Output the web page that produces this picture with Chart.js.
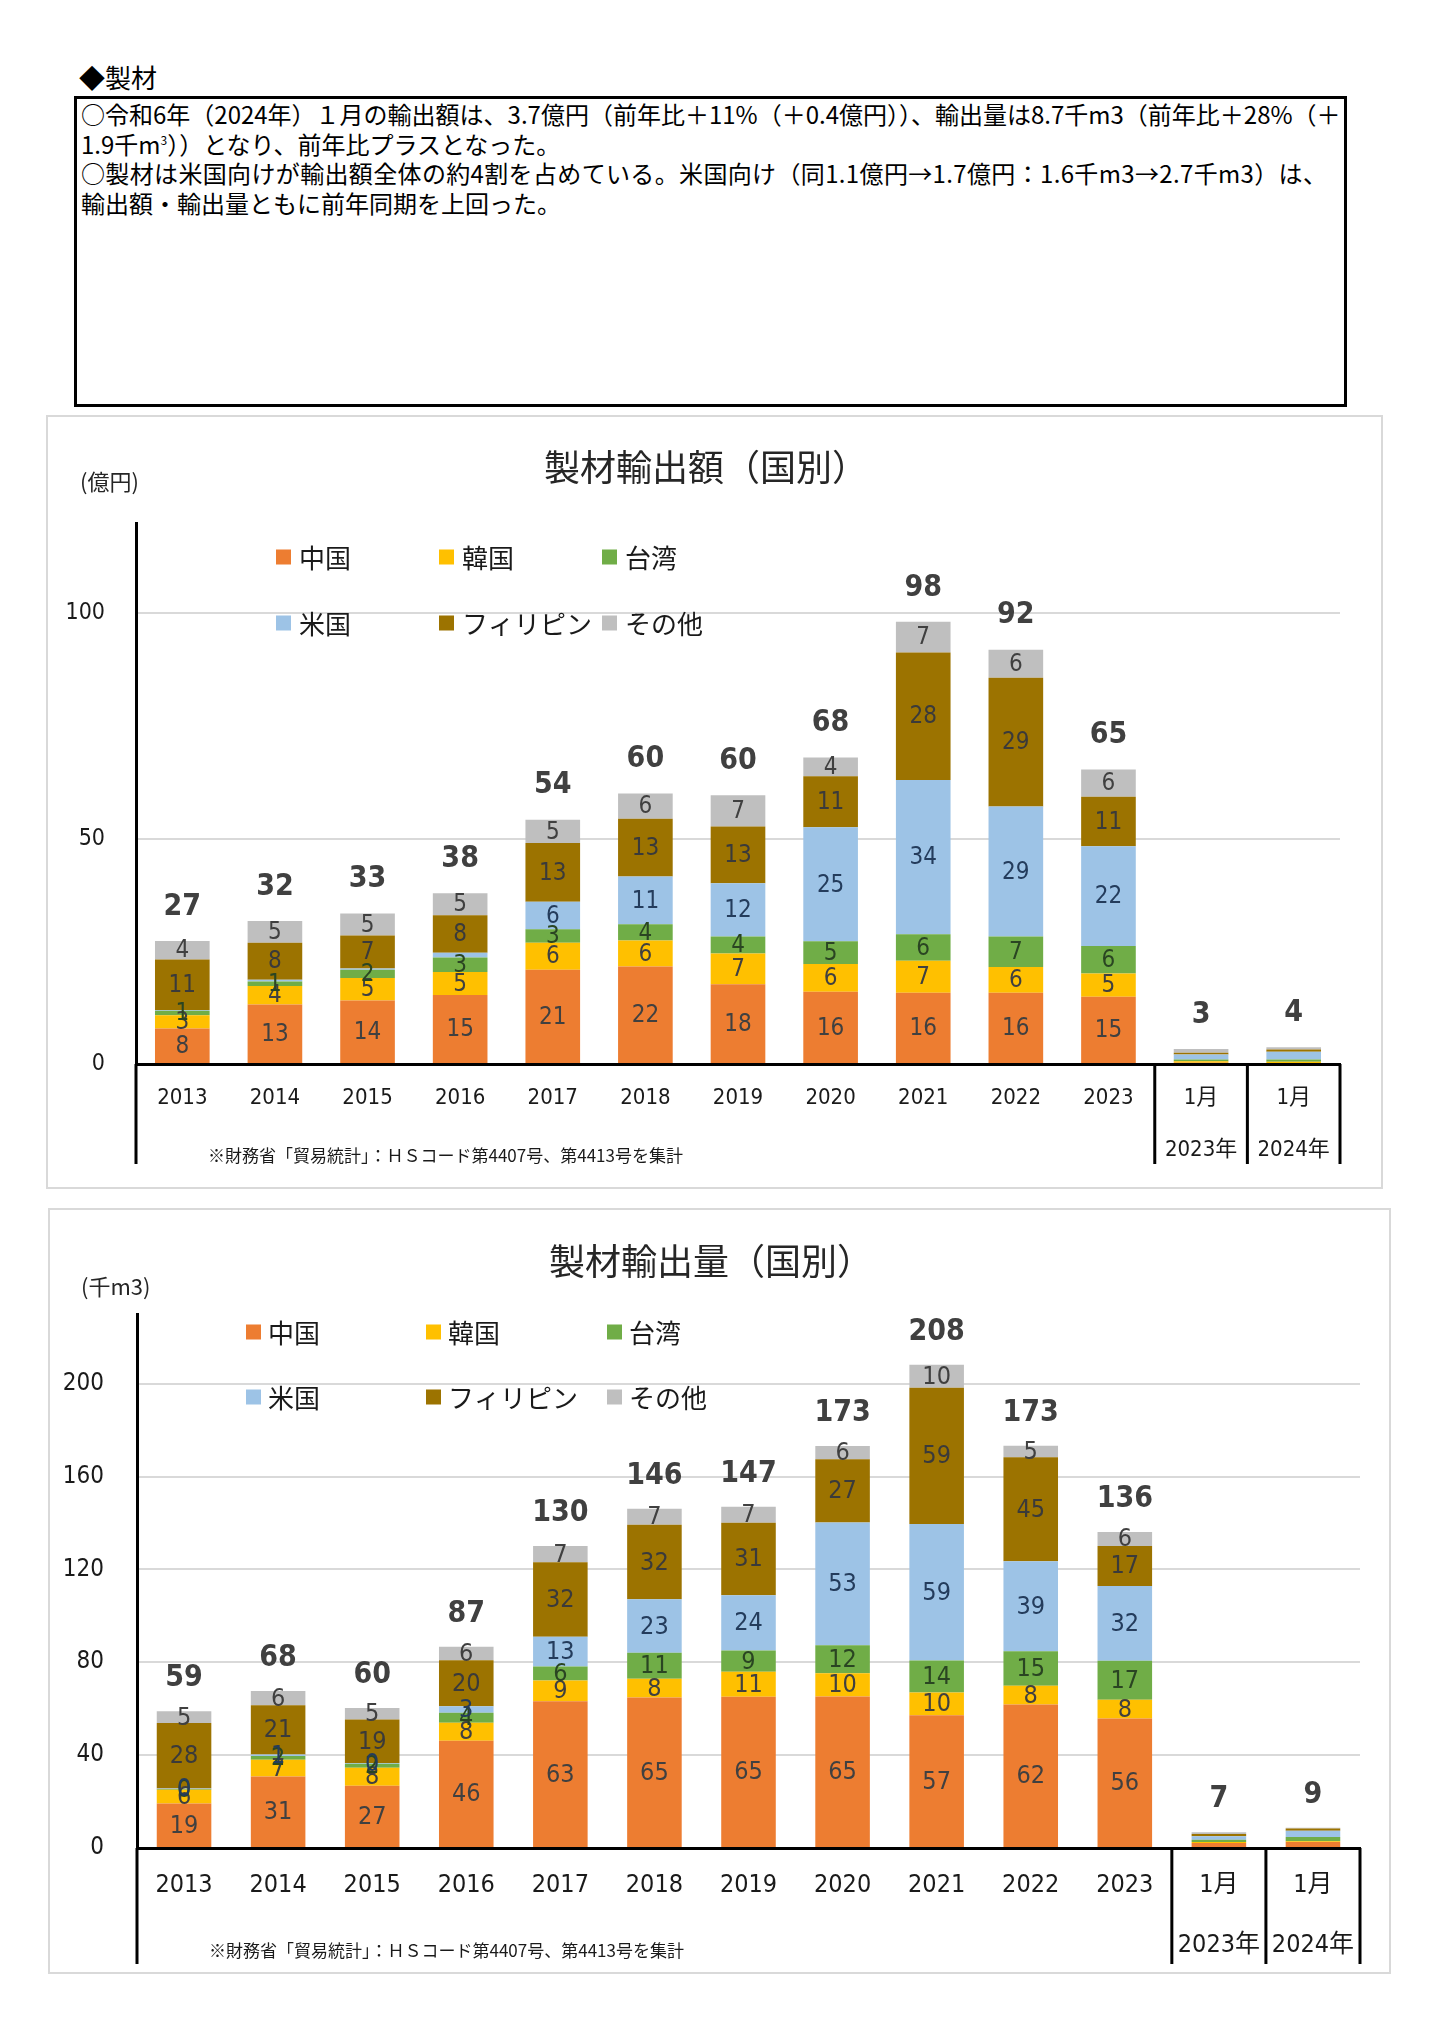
<!DOCTYPE html>
<html lang="ja">
<head>
<meta charset="utf-8">
<script src="https://cdn.jsdelivr.net/npm/chart.js@4.4.1/dist/chart.umd.min.js"></script>
<style>
html,body{margin:0;padding:0;background:#fff;}
body{width:1430px;height:2044px;position:relative;overflow:hidden;font-family:'Noto Sans CJK JP','Noto Sans CJK SC',sans-serif;color:#000;}
.abs{position:absolute;}
#heading{left:79px;top:61px;font-size:26px;line-height:32px;white-space:nowrap;}
#box{left:74px;top:96px;width:1267px;height:305px;border:3px solid #000;}
#box .ln{white-space:nowrap;font-size:24px;line-height:29.7px;padding-left:4px;}
#box .ln.wide{letter-spacing:0.35px;}
#box sup{font-size:12px;vertical-align:9px;line-height:0;}
.panel{position:absolute;border:2px solid #D9D9D9;box-sizing:border-box;pointer-events:none;}
canvas{position:absolute;}
</style>
</head>
<body>
<div id="heading" class="abs">◆製材</div>
<div id="box" class="abs">
<div class="ln">○令和6年（2024年）１月の輸出額は、3.7億円（前年比＋11%（＋0.4億円））、輸出量は8.7千m3（前年比＋28%（＋</div>
<div class="ln">1.9千m<sup>3</sup>））となり、前年比プラスとなった。</div>
<div class="ln wide">○製材は米国向けが輸出額全体の約4割を占めている。米国向け（同1.1億円→1.7億円：1.6千m3→2.7千m3）は、</div>
<div class="ln">輸出額・輸出量ともに前年同期を上回った。</div>
</div>

<canvas id="c1" width="1337" height="774" style="left:46px;top:415px;"></canvas>
<div class="panel" style="left:46px;top:415px;width:1337px;height:774px;"></div>
<canvas id="c2" width="1343" height="766" style="left:48px;top:1208px;"></canvas>
<div class="panel" style="left:48px;top:1208px;width:1343px;height:766px;"></div>

<script>
// ---------------- DATA ----------------
const categories = ['2013','2014','2015','2016','2017','2018','2019','2020','2021','2022','2023',['1月','2023年'],['1月','2024年']];
const seriesNames = ['中国','韓国','台湾','米国','フィリピン','その他'];

// 製材輸出額（億円）
const amtChina       = [7.9,13.2,14.1,15.3,20.9,21.6,17.7,16.0,15.8,15.8,14.9,0.3,0.2];
const amtKorea       = [2.9, 4.1, 5.0, 5.1, 6.0, 5.8, 6.8, 6.2, 7.1, 5.7, 5.2,0.3,0.3];
const amtTaiwan      = [1.0, 1.0, 1.8, 3.2, 3.0, 3.6, 3.8, 5.0, 5.9, 6.8, 6.1,0.4,0.5];
const amtUSA         = [0.2, 0.4, 0.3, 1.1, 6.1,10.6,11.8,25.3,34.2,28.8,22.1,1.1,1.7];
const amtPhilippines = [11.2,8.2, 7.3, 8.3,13.0,12.8,12.6,11.3,28.3,28.6,11.0,0.4,0.5];
const amtOther       = [4.1, 4.8, 4.9, 4.9, 5.2, 5.6, 6.9, 4.2, 6.8, 6.2, 6.0,0.8,0.5];
const amtTicks = [0, 50, 100];
const amtMax = 120;

// 製材輸出量（千m3）
const volChina       = [19.2,30.8,26.8,46.2,63.2,64.8,65.1,65.2,57.2,61.8,55.8,2.2,2.6];
const volKorea       = [5.9, 7.2, 7.8, 7.8, 8.9, 8.1,10.8,10.1, 9.8, 8.1, 8.1,0.4,0.3];
const volTaiwan      = [0.3, 1.6, 1.7, 4.2, 6.1,11.2, 9.2,12.0,13.8,14.8,16.8,0.9,1.8];
const volUSA         = [0.2, 0.7, 0.3, 2.9,12.8,23.0,23.8,52.9,58.8,38.8,32.2,1.6,2.7];
const volPhilippines = [28.2,21.2,18.8,19.8,32.1,32.1,31.2,27.2,58.6,44.8,17.2,0.9,1.0];
const volOther       = [5.1, 6.1, 4.9, 5.8, 7.0, 6.9, 6.9, 5.7, 9.9, 4.9, 6.0,0.8,0.3];
const volTicks = [0, 40, 80, 120, 160, 200];
const volMax = 230;

// ---------------- STYLE ----------------
const seriesColors = ['#ED7D31','#FFC000','#70AD47','#9DC3E6','#9C7300','#BFBFBF'];
const labelColors  = ['#404040','#404040','#2A4522','#243C5C','#3A3A3A','#404040'];
const JP  = "'Noto Sans CJK JP','Noto Sans CJK SC',sans-serif";
const NUM = "'DejaVu Sans Condensed','DejaVu Sans','Noto Sans CJK JP',sans-serif";

Chart.defaults.animation = false;
Chart.defaults.font.family = NUM;

// ---------------- PLUGINS ----------------
const stackLabels = {
  id: 'stackLabels',
  afterDatasetsDraw(chart, args, o) {
    const ctx = chart.ctx, ys = chart.scales.y, dsets = chart.data.datasets;
    ctx.save();
    ctx.textAlign = 'center'; ctx.textBaseline = 'middle';
    ctx.font = o.size + 'px ' + NUM;
    dsets.forEach((ds, di) => {
      chart.getDatasetMeta(di).data.forEach((bar, i) => {
        if (i >= o.labeled) return;
        const v = ds.data[i];
        if (v < o.min) return;
        if (o.hidden.some(h => h[0] === ds.label && h[1] === i)) return;
        const p = bar.getProps(['x','y','base'], true);
        ctx.fillStyle = labelColors[di];
        ctx.fillText(String(Math.round(v)), p.x, (p.y + p.base) / 2 + 1);
      });
    });
    ctx.font = 'bold ' + o.totalSize + 'px ' + NUM;
    ctx.fillStyle = '#404040';
    chart.data.labels.forEach((_, i) => {
      const total = dsets.reduce((s, ds) => s + ds.data[i], 0);
      const x = chart.getDatasetMeta(0).data[i].x;
      ctx.fillText(String(Math.round(total)), x, ys.getPixelForValue(total) - o.totalOffset);
    });
    ctx.restore();
  }
};

const gridLegend = {
  id: 'gridLegend',
  afterDraw(chart, args, o) {
    const ctx = chart.ctx;
    ctx.save();
    ctx.font = o.size + 'px ' + JP;
    ctx.textBaseline = 'middle'; ctx.textAlign = 'left';
    chart.data.datasets.forEach((ds, i) => {
      const x = o.cols[i % 3], y = o.rows[Math.floor(i / 3)];
      ctx.fillStyle = ds.backgroundColor;
      ctx.fillRect(x, y - o.box / 2, o.box, o.box);
      ctx.fillStyle = '#1a1a1a';
      ctx.fillText(ds.label, x + o.box + o.gap, y + 1);
    });
    ctx.restore();
  }
};

const panelText = {
  id: 'panelText',
  afterDraw(chart, args, o) {
    const ctx = chart.ctx;
    ctx.save();
    ctx.fillStyle = '#262626';
    ctx.textBaseline = 'middle';
    ctx.textAlign = 'center';
    ctx.font = o.titleSize + 'px ' + JP;
    ctx.fillText(o.title, o.titleX, o.titleY);
    ctx.textAlign = 'left';
    ctx.font = o.unitSize + 'px ' + JP;
    ctx.fillText(o.unit, o.unitX, o.unitY);
    ctx.fillStyle = '#1a1a1a';
    ctx.font = o.noteSize + 'px ' + JP;
    ctx.fillText(o.note, o.noteX, o.noteY);
    ctx.restore();
  }
};

const axisFrame = {
  id: 'axisFrame',
  afterDraw(chart, args, o) {
    const ctx = chart.ctx, ca = chart.chartArea, x = chart.scales.x;
    const step = x.width / chart.data.labels.length;
    ctx.save();
    ctx.strokeStyle = '#000'; ctx.lineWidth = 3;
    ctx.beginPath();
    ctx.moveTo(ca.left, ca.bottom); ctx.lineTo(ca.left, o.bottom);
    o.dividersAfter.forEach(i => {
      const px = x.getPixelForValue(i) + step / 2;
      ctx.moveTo(px, ca.bottom); ctx.lineTo(px, o.bottom);
    });
    ctx.stroke();
    ctx.restore();
  }
};

// ---------------- BUILDERS ----------------
function makeDatasets(series, barPct) {
  return seriesNames.map((name, i) => ({
    label: name,
    data: series[i],
    backgroundColor: seriesColors[i],
    borderWidth: 0,
    barPercentage: barPct,
    categoryPercentage: 1.0,
    stack: 's'
  }));
}

function yScale(max, tickVals, width, pad, size) {
  return {
    stacked: true, min: 0, max: max,
    afterBuildTicks: s => { s.ticks = tickVals.map(v => ({ value: v })); },
    afterFit: s => { s.width = width; },
    grid: {
      color: c => (c.tick && c.tick.value === 0) ? 'rgba(0,0,0,0)' : '#D9D9D9',
      lineWidth: 2, drawTicks: false
    },
    border: { display: true, color: '#000', width: 3 },
    ticks: { padding: pad, color: '#1a1a1a', font: { family: NUM, size: size } }
  };
}

function xScale(height, pad, size, lh) {
  return {
    stacked: true,
    afterFit: s => { s.height = height; },
    grid: { display: false, drawTicks: false },
    border: { display: true, color: '#000', width: 3 },
    ticks: {
      autoSkip: false, maxRotation: 0, minRotation: 0, padding: pad, color: '#1a1a1a',
      font: { family: NUM, size: size, lineHeight: lh + 'px' }
    }
  };
}

// ---------------- CHART 1: 輸出額 ----------------
new Chart(document.getElementById('c1'), {
  type: 'bar',
  data: {
    labels: categories,
    datasets: makeDatasets([amtChina, amtKorea, amtTaiwan, amtUSA, amtPhilippines, amtOther], 0.59)
  },
  options: {
    responsive: false, maintainAspectRatio: false, devicePixelRatio: 1,
    layout: { padding: { top: 108, right: 43, bottom: 0, left: 0 } },
    scales: {
      x: xScale(125, 8, 22, 52),
      y: yScale(amtMax, amtTicks, 90, 31, 23)
    },
    plugins: {
      legend: { display: false }, tooltip: { enabled: false },
      stackLabels: { size: 24, totalSize: 30, totalOffset: 34, labeled: 11, min: 0.5, hidden: [['米国', 3]] },
      gridLegend: { size: 26, box: 15, gap: 8, cols: [230, 393, 556], rows: [142, 208] },
      panelText: {
        title: '製材輸出額（国別）', titleSize: 36, titleX: 660, titleY: 52,
        unit: '(億円)', unitSize: 22, unitX: 34, unitY: 67,
        note: '※財務省「貿易統計」：ＨＳコード第4407号、第4413号を集計', noteSize: 17, noteX: 162, noteY: 741
      },
      axisFrame: { bottom: 749, dividersAfter: [10, 11, 12] }
    }
  },
  plugins: [stackLabels, gridLegend, panelText, axisFrame]
});

// ---------------- CHART 2: 輸出量 ----------------
new Chart(document.getElementById('c2'), {
  type: 'bar',
  data: {
    labels: categories,
    datasets: makeDatasets([volChina, volKorea, volTaiwan, volUSA, volPhilippines, volOther], 0.58)
  },
  options: {
    responsive: false, maintainAspectRatio: false, devicePixelRatio: 1,
    layout: { padding: { top: 106, right: 31, bottom: 0, left: 0 } },
    scales: {
      x: xScale(126, 7, 25, 60),
      y: yScale(volMax, volTicks, 89, 33, 24)
    },
    plugins: {
      legend: { display: false }, tooltip: { enabled: false },
      stackLabels: { size: 25, totalSize: 30, totalOffset: 33, labeled: 11, min: 0, hidden: [] },
      gridLegend: { size: 26, box: 15, gap: 7, cols: [198, 378, 559], rows: [124, 189] },
      panelText: {
        title: '製材輸出量（国別）', titleSize: 36, titleX: 663, titleY: 53,
        unit: '(千m3)', unitSize: 22, unitX: 33, unitY: 79,
        note: '※財務省「貿易統計」：ＨＳコード第4407号、第4413号を集計', noteSize: 17, noteX: 161, noteY: 743
      },
      axisFrame: { bottom: 756, dividersAfter: [10, 11, 12] }
    }
  },
  plugins: [stackLabels, gridLegend, panelText, axisFrame]
});
</script>
</body>
</html>
